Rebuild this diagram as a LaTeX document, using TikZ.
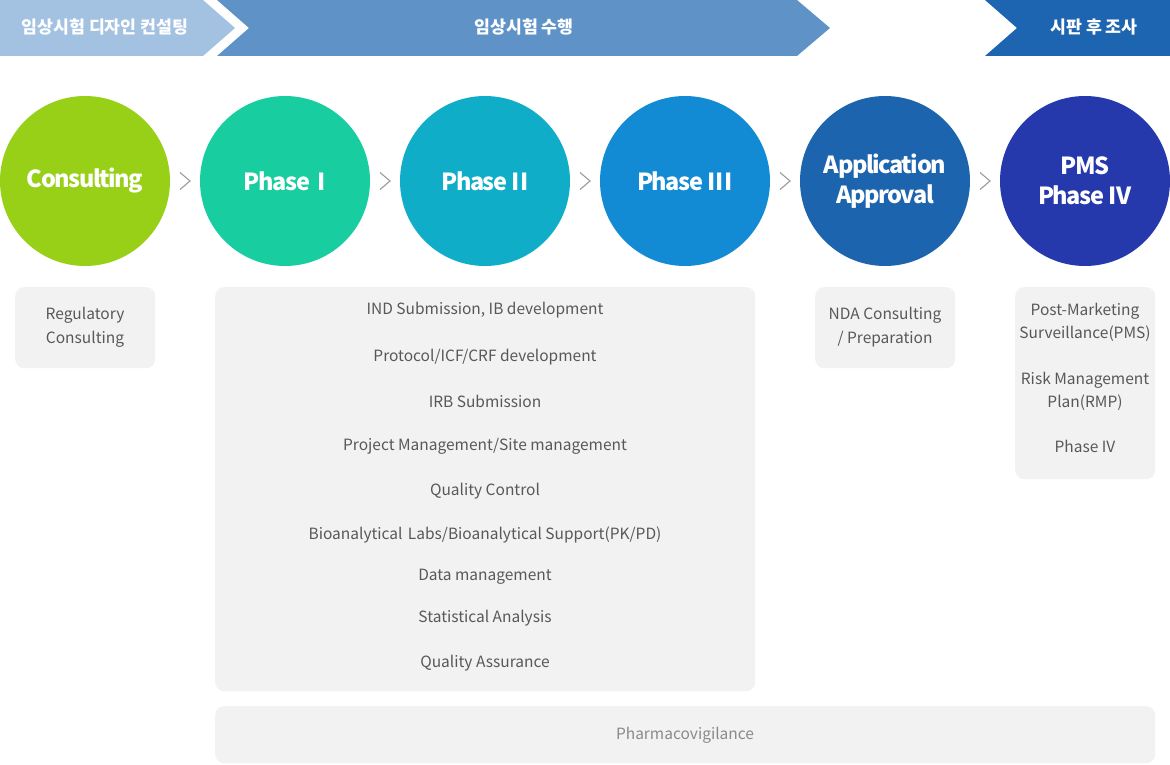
\documentclass[tikz,border=0pt]{standalone}
\usepackage{fontspec}
\setmainfont{Noto Sans CJK KR}
\newfontfamily\circfont{Noto Sans CJK KR}[LetterSpace=-6]
\usetikzlibrary{calc}
\definecolor{cConsult}{HTML}{97D017}
\definecolor{cPone}{HTML}{18CDA0}
\definecolor{cPtwo}{HTML}{10ADC8}
\definecolor{cPthree}{HTML}{138BD4}
\definecolor{cApp}{HTML}{1D64AF}
\definecolor{cPMS}{HTML}{2539AD}
\definecolor{bLight}{HTML}{A3C1E0}
\definecolor{bMid}{HTML}{5F93C8}
\definecolor{bDark}{HTML}{1D64B1}
\definecolor{boxfill}{HTML}{F2F2F2}
\definecolor{boxtext}{HTML}{585858}
\definecolor{pvtext}{HTML}{8A8A8A}
\definecolor{chevgray}{HTML}{9A9A9A}
\begin{document}
\begin{tikzpicture}[x=1pt,y=-1pt,
  circ/.style={circle,minimum size=170pt,inner sep=0pt,text=white,align=center,
    font=\circfont\fontsize{23.5}{30}\selectfont\bfseries},
  bannertext/.style={text=white,font=\fontsize{17.3}{19}\selectfont\bfseries,
    text height=12pt,text depth=0pt,inner sep=0pt},
  box/.style={fill=boxfill,rounded corners=9pt,anchor=north west,inner sep=0pt},
  item/.style={text=boxtext,font=\fontsize{15.5}{18}\selectfont,
    text height=11.3pt,text depth=0pt,inner sep=0pt},
  chev/.style={draw=chevgray,line width=1.1pt}]
\useasboundingbox (0,0) rectangle (1170,765);

% banner
\fill[bLight] (0,0) -- (203,0) -- (235,28) -- (203,56) -- (0,56) -- cycle;
\fill[bMid] (217,0) -- (797,0) -- (830,28) -- (797,56) -- (217,56) -- (249,28) -- cycle;
\fill[bDark] (985,0) -- (1170,0) -- (1170,56) -- (985,56) -- (1017,28) -- cycle;
\node[bannertext] (t1) at (105,28) {임상시험 디자인 컨설팅};
\node[bannertext] (t2) at (524,28) {임상시험 수행};
\node[bannertext] (t3) at (1094,28) {시판 후 조사};

% circles
\node[circ,fill=cConsult] (c1) at (85,181) {Consulting};
\node[circ,fill=cPone] (c2) at (285,181) {Phase\ \ I};
\node[circ,fill=cPtwo] (c3) at (485,181) {Phase I\kern0.8pt I};
\node[circ,fill=cPthree] (c4) at (685,181) {Phase I\kern0.5pt I\kern0.5pt I};
\node[circ,fill=cApp] (c5) at (885,181) {Application\\Approval};
\node[circ,fill=cPMS] (c6) at (1085,181) {PMS\\Phase I\kern0.4pt V};

% chevrons between circles
\foreach \a/\b in {c1/c2,c2/c3,c3/c4,c4/c5,c5/c6}{
  \draw[chev] ($(\a)!0.5!(\b)$) ++(-5,-8.5) -- ++(10,8.5) -- ++(-10,8.5);
}

% boxes
\node[box,minimum width=140pt,minimum height=81pt] (b1) at (15,287) {};
\node[box,minimum width=540pt,minimum height=404pt] (b2) at (215,287) {};
\node[box,minimum width=140pt,minimum height=81pt] (b3) at (815,287) {};
\node[box,minimum width=140pt,minimum height=192pt] (b4) at (1015,287) {};
\node[box,minimum width=940pt,minimum height=57pt] (b5) at (215,706) {};

% box texts
\node[item] (r1) at (85,314) {Regulatory};
\node[item] (r2) at (85,338) {Consulting};

\node[item] (p1) at (485,309) {IND Submission, IB development};
\node[item] (p2) at (485,356) {Protocol/ICF/CRF development};
\node[item] (p3) at (485,402) {IRB Submission};
\node[item] (p4) at (485,445) {Project Management/Site management};
\node[item] (p5) at (485,490) {Quality Control};
\node[item] (p6) at (485,533.5) {Bioanalytical\hspace{0.35em}Labs/Bioanalytical Support(PK/PD)};
\node[item] (p7) at (485,575) {Data management};
\node[item] (p8) at (485,617) {Statistical Analysis};
\node[item] (p9) at (485,661.5) {Quality Assurance};

\node[item] (n1) at (885,314) {NDA Consulting};
\node[item] (n2) at (885,338) {/ Preparation};

\node[item] (m1) at (1085,309.5) {Post-Marketing};
\node[item] (m2) at (1085,333) {Surveillance(PMS)};
\node[item] (m3) at (1085,378.5) {Risk Management};
\node[item] (m4) at (1085,401.5) {Plan(RMP)};
\node[item] (m5) at (1085,446.5) {Phase IV};

\node[item,text=pvtext] (v1) at (685,734) {Pharmacovigilance};
\end{tikzpicture}
\end{document}
